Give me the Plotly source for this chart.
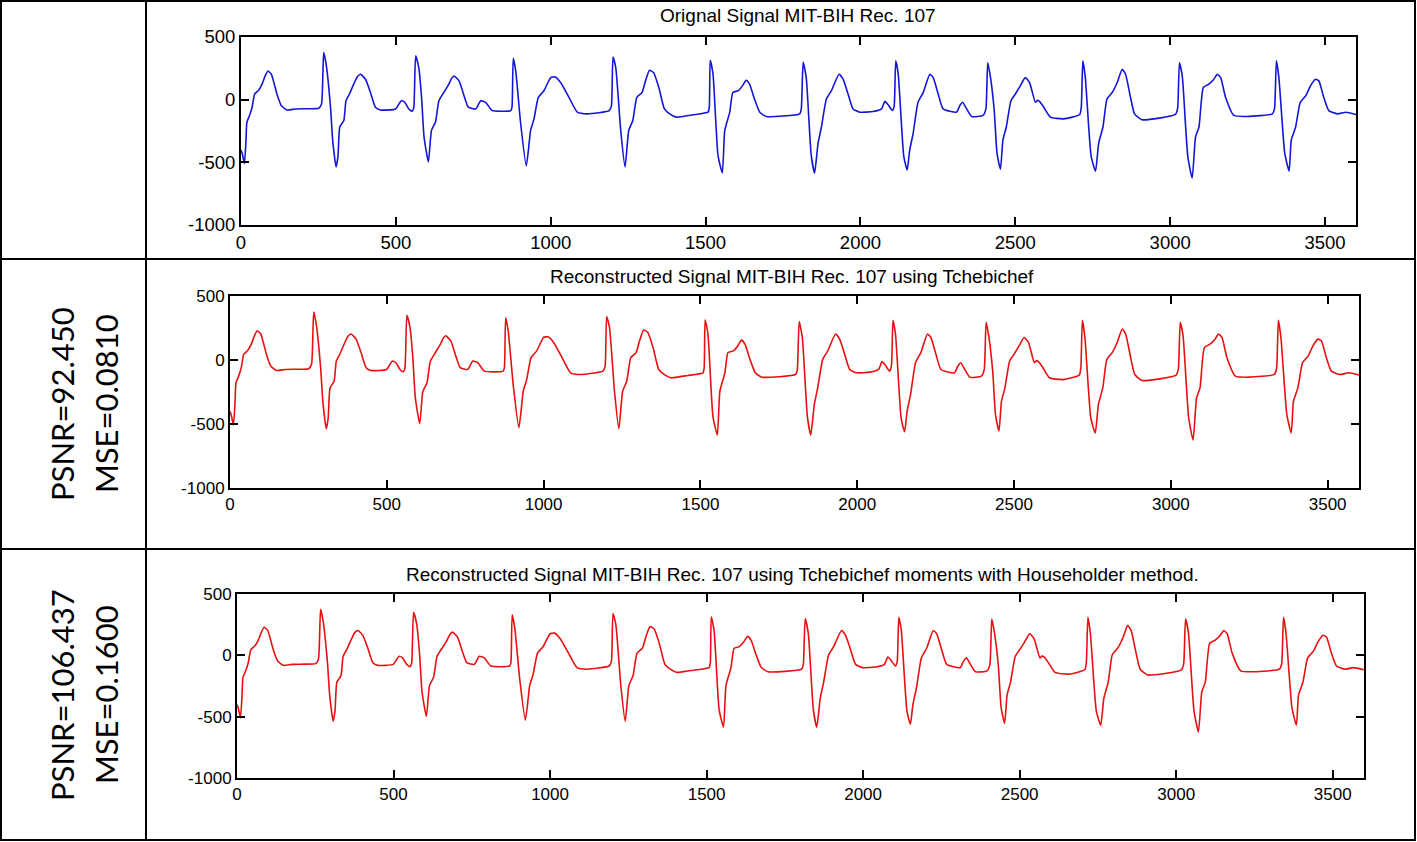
import plotly.graph_objects as go

W, H = 1417, 842

# ---------------- data ----------------
sample_idx = [0, 4, 11, 16, 19, 27, 36, 44, 57, 68, 78, 87, 98, 108, 116, 130, 149, 176, 215, 251, 260, 267, 275, 289, 296, 307, 313, 319, 332, 339, 350, 364, 376, 386, 402, 418, 434, 450, 499, 510, 518, 529, 542, 553, 558, 564, 574, 583, 591, 605, 615, 628, 639, 655, 671, 680, 688, 704, 720, 734, 758, 774, 790, 811, 871, 875, 879, 887, 903, 921, 928, 935, 946, 960, 978, 1000, 1014, 1032, 1059, 1086, 1119, 1189, 1196, 1201, 1210, 1226, 1240, 1252, 1265, 1278, 1295, 1306, 1319, 1332, 1349, 1367, 1384, 1405, 1459, 1508, 1512, 1515, 1524, 1540, 1554, 1562, 1578, 1588, 1605, 1619, 1631, 1642, 1658, 1675, 1696, 1804, 1809, 1815, 1825, 1841, 1852, 1863, 1874, 1890, 1906, 1931, 1944, 1960, 1976, 1998, 2041, 2068, 2079, 2089, 2103, 2109, 2114, 2122, 2140, 2151, 2159, 2170, 2186, 2203, 2224, 2235, 2251, 2267, 2310, 2321, 2330, 2343, 2359, 2396, 2405, 2411, 2420, 2432, 2441, 2452, 2460, 2471, 2486, 2500, 2516, 2532, 2546, 2565, 2572, 2578, 2592, 2613, 2656, 2708, 2713, 2718, 2726, 2737, 2745, 2759, 2769, 2783, 2796, 2813, 2829, 2845, 2856, 2872, 2885, 2909, 3017, 3024, 3030, 3039, 3050, 3057, 3071, 3082, 3093, 3107, 3125, 3141, 3152, 3163, 3179, 3206, 3249, 3330, 3337, 3343, 3351, 3362, 3370, 3384, 3391, 3405, 3420, 3438, 3453, 3469, 3480, 3496, 3512, 3540, 3567, 3600]

original_signal = [-402, -430, -508, -330, -180, -130, -60, 45, 76, 124, 190, 229, 203, 120, 45, -47, -82, -74, -72, -68, -34, 375, 281, -60, -323, -537, -455, -218, -166, -8, 45, 124, 185, 203, 163, 58, -60, -82, -74, -34, -8, -21, -74, -92, -60, 350, 255, 18, -297, -497, -245, -179, -8, 58, 124, 170, 189, 150, 32, -60, -74, -8, -21, -87, -87, -60, 330, 229, -192, -529, -402, -245, -153, 18, 71, 176, 181, 137, 18, -100, -113, -87, -50, 340, 255, -245, -537, -245, -166, 18, 58, 150, 234, 216, 97, -74, -113, -139, -121, -100, -60, 315, 203, -442, -585, -245, -100, 58, 71, 110, 155, 124, 5, -100, -134, -113, -74, 300, 176, -442, -585, -350, -218, 5, 71, 203, 163, 45, -74, -100, -95, -74, -13, -39, -87, -47, 310, 203, -455, -561, -402, -271, -21, 58, 203, 176, 45, -74, -100, -47, -21, -74, -134, -126, -74, 295, 176, -87, -429, -555, -323, -218, -8, 45, 110, 176, 137, -21, -5, -13, -60, -139, -153, -118, -60, 310, 176, -218, -455, -570, -350, -218, 5, 58, 137, 242, 203, 18, -113, -160, -118, -70, 295, 189, -218, -455, -625, -297, -218, 97, 124, 163, 203, 176, 18, -126, -134, -113, -70, 310, 176, -192, -429, -570, -323, -218, -21, 32, 110, 163, 150, 18, -87, -113, -100, -118]

# reconstructions are visually indistinguishable from the original
tchebichef_signal = list(original_signal)
householder_signal = list(original_signal)

titles = ["Orignal Signal MIT-BIH Rec. 107",
          "Reconstructed Signal MIT-BIH Rec. 107 using Tchebichef",
          "Reconstructed Signal MIT-BIH Rec. 107 using Tchebichef moments with Householder method."]
metrics = [None, ("PSNR=92.450", "MSE=0.0810"), ("PSNR=106.437", "MSE=0.1600")]

x_ticks = [0, 500, 1000, 1500, 2000, 2500, 3000, 3500]
y_ticks = [-1000, -500, 0, 500]
y_tick_text = ["-1000", "-500", "0", "500"]

# ---------------- layout helpers ----------------
def px(x):
    return x / W

def py(y):
    return 1 - y / H

# plot boxes in pixel coordinates: (left, right, top, bottom)
boxes = [(241, 1356, 37, 225), (230, 1359, 296, 488), (237, 1364, 594, 778)]
title_pos = [(798, 16), (792, 276), (802, 574)]
tick_sizes = [18.5, 17, 17]
colors = ["#1515d8", "#e81010", "#e81010"]
signals = [original_signal, tchebichef_signal, householder_signal]

fig = go.Figure()
layout = dict(width=W, height=H, margin=dict(l=0, r=0, t=0, b=0, pad=0, autoexpand=False),
              paper_bgcolor="white", plot_bgcolor="white", showlegend=False)

annotations = []
for i in range(3):
    n = "" if i == 0 else str(i + 1)
    l, r, t, b = boxes[i]
    fig.add_trace(go.Scatter(x=sample_idx, y=signals[i], mode="lines",
                             line=dict(color=colors[i], width=1.6, shape="spline", smoothing=0.5),
                             xaxis="x" + n, yaxis="y" + n, hoverinfo="skip"))
    common = dict(showline=True, linewidth=2, linecolor="black", mirror="ticks",
                  ticks="inside", ticklen=8, tickwidth=1.5, tickcolor="black",
                  showgrid=False, zeroline=False, automargin=False,
                  tickfont=dict(family="Liberation Sans, Arial", size=tick_sizes[i], color="black"))
    layout["xaxis" + n] = dict(domain=[px(l), px(r)], range=[0, 3600], tickvals=x_ticks,
                               anchor="y" + n, **common)
    layout["yaxis" + n] = dict(domain=[py(b), py(t)], range=[-1000, 500], tickvals=y_ticks,
                               ticktext=y_tick_text, anchor="x" + n, **common)
    tx, ty = title_pos[i]
    annotations.append(dict(text=titles[i], x=px(tx), y=py(ty), xref="paper", yref="paper",
                            showarrow=False, xanchor="center", yanchor="middle",
                            font=dict(family="Liberation Sans, Arial", size=19, color="black")))

# rotated metric labels in the left column
row_centers = [None, 404, 695]
for i in (1, 2):
    a, bb = metrics[i]
    for txt, cx in ((a, 62), (bb, 106)):
        annotations.append(dict(text=txt, x=px(cx), y=py(row_centers[i]), xref="paper", yref="paper",
                                showarrow=False, textangle=-90, xanchor="center", yanchor="middle",
                                font=dict(family="Lato, Open Sans", size=31, color="black")))

# table grid lines
shapes = [
    dict(type="rect", x0=px(1), x1=px(1415), y0=py(1), y1=py(840), xref="paper", yref="paper",
         line=dict(color="black", width=2)),
    dict(type="line", x0=px(146), x1=px(146), y0=py(0), y1=py(841), xref="paper", yref="paper",
         line=dict(color="black", width=2)),
    dict(type="line", x0=px(0), x1=px(1416), y0=py(259), y1=py(259), xref="paper", yref="paper",
         line=dict(color="black", width=2)),
    dict(type="line", x0=px(0), x1=px(1416), y0=py(549), y1=py(549), xref="paper", yref="paper",
         line=dict(color="black", width=2)),
]
layout["annotations"] = annotations
layout["shapes"] = shapes
fig.update_layout(**layout)
fig.write_html("out.html", config={"displayModeBar": False},
               post_script=("document.body.style.margin='0';document.body.style.overflow='hidden';"
                            "var d=document.getElementById('{plot_id}');d.style.position='fixed';"
                            "d.style.top='0px';d.style.left='0px';"))
